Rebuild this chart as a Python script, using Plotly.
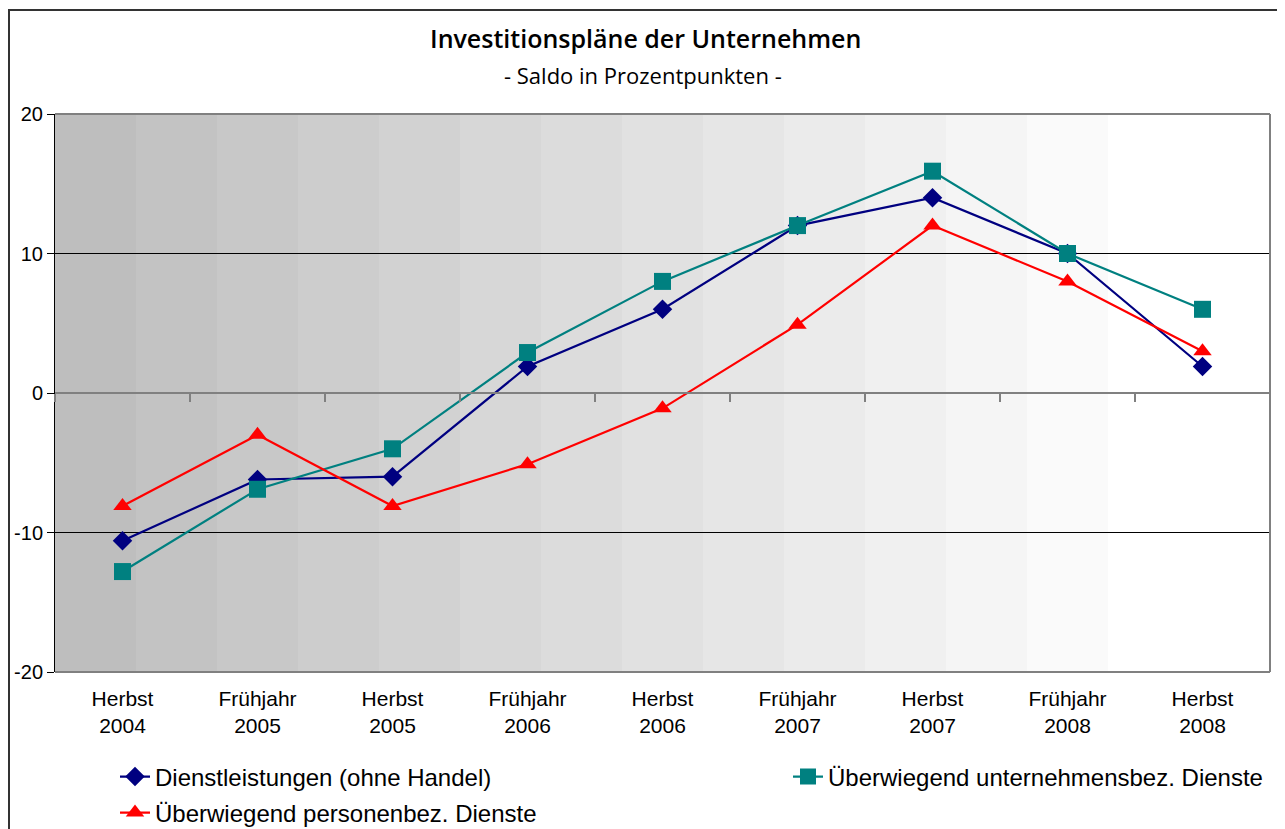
import plotly.graph_objects as go

categories = ["Herbst<br>2004", "Frühjahr<br>2005", "Herbst<br>2005", "Frühjahr<br>2006",
              "Herbst<br>2006", "Frühjahr<br>2007", "Herbst<br>2007", "Frühjahr<br>2008",
              "Herbst<br>2008"]
dienst = [-10.6, -6.2, -6.0, 1.9, 6.0, 12.0, 14.0, 10.0, 1.9]
unternehmen = [-12.8, -6.9, -4.0, 2.9, 8.0, 12.0, 15.9, 10.0, 6.0]
personen = [-8.1, -3.0, -8.1, -5.1, -1.1, 4.9, 12.0, 8.0, 3.0]
y_ticks = [-20, -10, 0, 10, 20]
y_ticktext = ["-20", "-10", "0", "10", "20"]

names = ["Dienstleistungen (ohne Handel)", "Überwiegend unternehmensbez. Dienste",
         "Überwiegend personenbez. Dienste"]

x_idx = list(range(len(categories)))

# page body adds an 8px offset; size the figure so it fits the 1285x829 window
OFF = 8
W, H = 1285 - OFF, 829 - OFF
PL, PR, PT, PB = 55, 1270, 114, 672   # target plot area in screen pixels
PW, PH = PR - PL, PB - PT
ml, mt = PL - OFF, PT - OFF
mr, mb = W - ml - PW, H - mt - PH


def px(X):
    return (X - PL) / PW


def py(Y):
    return (PB - Y) / PH


fig = go.Figure()
fig.add_trace(go.Scatter(x=x_idx, y=dienst, name=names[0], mode="lines+markers",
                         line=dict(color="#000080", width=2.2),
                         marker=dict(symbol="diamond", size=15, color="#000080"),
                         legend="legend"))
fig.add_trace(go.Scatter(x=x_idx, y=unternehmen, name=names[1], mode="lines+markers",
                         line=dict(color="#008080", width=2.2),
                         marker=dict(symbol="square", size=17, color="#008080"),
                         legend="legend3"))
fig.add_trace(go.Scatter(x=x_idx, y=personen, name=names[2], mode="lines+markers",
                         line=dict(color="#FF0000", width=2.2),
                         marker=dict(symbol="triangle-up", size=16, color="#FF0000"),
                         legend="legend2"))
# dummy trace for the zero-crossing category axis
fig.add_trace(go.Scatter(x=[None], y=[None], xaxis="x2", showlegend=False, hoverinfo="skip"))

shapes = []
# background gradient bands
nb = 15
for i in range(nb):
    v = int(round(190 + 65 * min(i / 13.0, 1.0)))
    shapes.append(dict(type="rect", xref="x domain", yref="y domain",
                       x0=i / nb, x1=(i + 1) / nb, y0=0, y1=1,
                       fillcolor=f"rgb({v},{v},{v})", line=dict(width=0), layer="below"))
# plot-area border (top, right, bottom) in gray
for (x0, y0, x1, y1) in [(0, 1, 1, 1), (1, 0, 1, 1), (0, 0, 1, 0)]:
    shapes.append(dict(type="line", xref="x domain", yref="y domain",
                       x0=x0, y0=y0, x1=x1, y1=y1,
                       line=dict(color="#808080", width=2), layer="above"))
# outer chart border
shapes.append(dict(type="rect", xref="paper", yref="paper",
                   x0=px(9), x1=px(1282), y0=py(845), y1=py(10),
                   line=dict(color="#333333", width=2), fillcolor="rgba(0,0,0,0)"))

leg_common = dict(orientation="h", xanchor="left", yanchor="middle",
                  font=dict(size=24), bgcolor="rgba(0,0,0,0)", borderwidth=0)

fig.update_layout(
    width=W, height=H,
    margin=dict(l=ml, r=mr, t=mt, b=mb, autoexpand=False),
    paper_bgcolor="white", plot_bgcolor="white",
    showlegend=True,
    shapes=shapes,
    font=dict(family="Liberation Sans, Arial, sans-serif", color="black"),
    xaxis=dict(range=[-0.5, 8.5], tickvals=x_idx, ticktext=categories,
               showgrid=False, zeroline=False, showline=False, ticks="",
               tickfont=dict(size=21), ticklabelstandoff=12, automargin=False),
    xaxis2=dict(overlaying="x", anchor="free", position=0.5,
                range=[-0.5, 8.5], tickvals=[i + 0.5 for i in range(-1, 9)],
                showticklabels=False, showgrid=False, zeroline=False,
                showline=True, linecolor="#808080", linewidth=2,
                ticks="outside", ticklen=8, tickcolor="#808080", tickwidth=1.5,
                side="bottom", automargin=False),
    yaxis=dict(range=[-20, 20], tickvals=y_ticks, ticktext=y_ticktext,
               showgrid=True, gridcolor="black", gridwidth=1,
               zeroline=False, showline=True, linecolor="black", linewidth=1,
               ticks="outside", ticklen=7, tickcolor="black",
               tickfont=dict(size=20), automargin=False),
    legend=dict(x=px(115), y=py(777), **leg_common),
    legend3=dict(x=px(788), y=py(777), **leg_common),
    legend2=dict(x=px(115), y=py(813), **leg_common),
    annotations=[
        dict(text="Investitionspläne der Unternehmen", xref="paper", yref="paper",
             x=px(645), y=py(38), xanchor="center", yanchor="middle", showarrow=False,
             font=dict(family="Open Sans, sans-serif", size=25, weight=600, color="black")),
        dict(text="- Saldo in Prozentpunkten -", xref="paper", yref="paper",
             x=px(643), y=py(75), xanchor="center", yanchor="middle", showarrow=False,
             font=dict(family="Open Sans, sans-serif", size=22, color="black")),
    ],
)

fig.write_html("out.html")
